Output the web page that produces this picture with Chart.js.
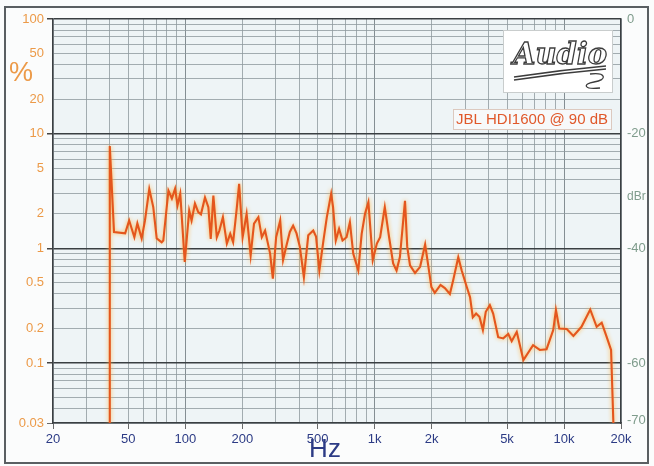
<!DOCTYPE html>
<html>
<head>
<meta charset="utf-8">
<title>JBL HDI1600 distortion</title>
<script src="https://cdn.jsdelivr.net/npm/chart.js@4.4.1/dist/chart.umd.min.js"></script>
<style>
  html, body { margin: 0; padding: 0; background: #fbfcfc; }
  canvas { display: block; }
</style>
</head>
<body>
<canvas id="thd" width="654" height="466"></canvas>
<script>
// THD+N against frequency, JBL HDI1600 at 90 dB
const freqHz = [
  39.6, 39.9, 42.0, 48.1, 50.5, 53.8, 55.8, 58.8, 61.2, 64.5,
  67.7, 70.6, 75.0, 76.5, 81.4, 84.9, 88.3, 90.9, 94.0, 99.3,
  104.8, 107.9, 112.4, 117.0, 120.9, 127.0, 132.3, 136.2, 140.6, 146.6,
  151.3, 157.9, 165.7, 172.6, 178.8, 186.4, 192.4, 200.7, 210.7, 221.3,
  230.5, 243.1, 253.4, 263.8, 280.4, 289.9, 301.7, 317.0, 328.2, 342.1,
  356.3, 370.9, 386.7, 402.7, 422.8, 445.9, 473.8, 490.1, 510.3, 536.2,
  558.9, 589.1, 602.9, 623.3, 648.7, 676.5, 710.3, 739.9, 770.5, 819.3,
  853.7, 889.1, 926.4, 977, 1027, 1069, 1131, 1192, 1252, 1305,
  1359, 1446, 1486, 1537, 1634, 1738, 1847, 1923, 1994, 2077,
  2227, 2348, 2496, 2600, 2764, 2882, 3065, 3190, 3298, 3434,
  3576, 3729, 3862, 4058, 4225, 4492, 4777, 5078, 5294, 5629,
  6103, 6863, 7451, 8089, 8772, 9066, 9441, 10337, 11210, 12370,
  13755, 14875, 15816, 16815, 17727, 18230
];
const thdPct = [
  0.03, 7.8, 1.39, 1.35, 1.75, 1.25, 1.65, 1.22, 1.75, 3.3,
  2.29, 1.22, 1.13, 1.17, 3.19, 2.72, 3.32, 2.37, 3.0, 0.76,
  2.14, 1.75, 2.46, 2.07, 1.98, 2.78, 2.29, 1.21, 2.89, 1.25,
  1.43, 1.87, 1.1, 1.34, 1.13, 2.14, 3.65, 1.25, 2.0, 0.87,
  1.64, 1.87, 1.25, 1.43, 0.9, 0.545, 1.25, 1.75, 0.79, 1.06,
  1.39, 1.58, 1.35, 1.03, 0.56, 1.3, 1.43, 1.27, 0.64, 1.17,
  1.87, 2.99, 2.29, 1.17, 1.48, 1.17, 1.25, 1.69, 0.9, 0.64,
  1.34, 2.0, 2.53, 0.79, 1.1, 1.25, 2.29, 1.25, 0.74, 0.64,
  0.84, 2.6, 1.03, 0.71, 0.61, 0.69, 1.08, 0.69, 0.46, 0.41,
  0.48, 0.45, 0.40, 0.53, 0.835, 0.64, 0.46, 0.375, 0.25, 0.27,
  0.253, 0.194, 0.28, 0.32, 0.27, 0.168, 0.164, 0.179, 0.155, 0.187,
  0.106, 0.143, 0.13, 0.132, 0.194, 0.29, 0.2, 0.198, 0.172, 0.207,
  0.293, 0.207, 0.225, 0.168, 0.13, 0.03
];

const freqLabelled = [20, 50, 100, 200, 500, 1000, 2000, 5000, 10000, 20000];
const freqLabels = ['20', '50', '100', '200', '500', '1k', '2k', '5k', '10k', '20k'];
const pctLabelled = [100, 50, 20, 10, 5, 2, 1, 0.5, 0.2, 0.1, 0.03];
const pctLabels = ['100', '50', '20', '10', '5', '2', '1', '0.5', '0.2', '0.1', '0.03'];
const dbrTicks = [0, -20, -40, -60, -70];
const dbrLabels = ['0', '-20', '-40', '-60', '-70'];
const legendText = 'JBL HDI1600 @ 90 dB';

const FONT = '"Liberation Sans", Arial, sans-serif';
const ORANGE = '#ec9a48';
const NAVY = '#2c3b85';
const GREY_GREEN = '#7f9c8c';

const near = (a, b) => Math.abs(a - b) <= Math.abs(b) * 1e-6;
const labelFor = (v, vals, labels) => {
  const i = vals.findIndex(t => v === t || near(v, t));
  return i < 0 ? '' : labels[i];
};
const isDecade = v => near(Math.log10(v), Math.round(Math.log10(v)));

// grid lines at every 1..9 step of each decade
function gridValues(lo, hi) {
  const out = [];
  for (let e = Math.floor(Math.log10(lo)); e <= Math.ceil(Math.log10(hi)); e++) {
    for (let m = 1; m <= 9; m++) {
      const v = +(m * Math.pow(10, e)).toPrecision(6);
      if (v >= lo * 0.9999 && v <= hi * 1.0001) out.push(v);
    }
  }
  return out;
}
const freqGrid = gridValues(20, 20000);
const pctGrid = gridValues(0.03, 100);

const backdrop = {
  id: 'backdrop',
  beforeDraw(chart) {
    const { ctx, chartArea: a } = chart;
    ctx.save();
    ctx.fillStyle = '#fbfcfc';
    ctx.fillRect(0, 0, chart.width, chart.height);
    ctx.fillStyle = '#eef4f6';
    ctx.fillRect(a.left, a.top, a.right - a.left, a.bottom - a.top);
    ctx.strokeStyle = '#5a5f62';
    ctx.lineWidth = 2;
    ctx.strokeRect(5, 7, 643, 456);
    ctx.restore();
  }
};

const glow = {
  id: 'glow',
  beforeDatasetsDraw(chart) {
    const ctx = chart.ctx;
    ctx.save();
    ctx.shadowColor = 'rgba(255, 180, 70, 0.95)';
    ctx.shadowBlur = 4;
  },
  afterDatasetsDraw(chart) {
    chart.ctx.restore();
  }
};

const decorations = {
  id: 'decorations',
  afterDraw(chart) {
    const ctx = chart.ctx;
    ctx.save();
    ctx.textBaseline = 'middle';

    ctx.fillStyle = ORANGE;
    ctx.font = '27px ' + FONT;
    ctx.textAlign = 'center';
    ctx.fillText('%', 21, 74);

    ctx.fillStyle = GREY_GREEN;
    ctx.font = '12px ' + FONT;
    ctx.textAlign = 'left';
    ctx.fillText('dBr', 627, 197);

    ctx.fillStyle = NAVY;
    ctx.font = '26px ' + FONT;
    ctx.textAlign = 'center';
    ctx.fillText('Hz', 325, 450);

    // series tag
    ctx.fillStyle = '#f7f9fa';
    ctx.fillRect(453.5, 109.5, 158, 20);
    ctx.strokeStyle = '#dcc9bf';
    ctx.lineWidth = 1;
    ctx.strokeRect(453.5, 109.5, 158, 20);
    ctx.fillStyle = '#e0582a';
    ctx.font = '15px ' + FONT;
    ctx.fillText(legendText, 532, 120);

    // magazine logo
    ctx.fillStyle = '#ffffff';
    ctx.fillRect(503.5, 30.5, 109, 62);
    ctx.strokeStyle = '#c9cdcd';
    ctx.strokeRect(503.5, 30.5, 109, 62);
    ctx.font = 'italic bold 29px "DejaVu Serif", serif';
    ctx.strokeStyle = '#3c3c3c';
    ctx.lineWidth = 1.3;
    ctx.strokeText('Audio', 560, 56);
    ctx.beginPath();
    ctx.moveTo(514, 77);
    ctx.quadraticCurveTo(560, 70, 606, 66);
    ctx.moveTo(514, 80);
    ctx.quadraticCurveTo(560, 73, 606, 69);
    ctx.moveTo(590, 74);
    ctx.bezierCurveTo(606, 72, 608, 80, 594, 82);
    ctx.bezierCurveTo(582, 84, 584, 90, 600, 88);
    ctx.stroke();
    ctx.restore();
  }
};

new Chart(document.getElementById('thd'), {
  type: 'line',
  data: {
    datasets: [{
      label: legendText,
      data: freqHz.map((f, i) => ({ x: f, y: thdPct[i] })),
      borderColor: '#e4561d',
      borderWidth: 2.1,
      pointRadius: 0,
      tension: 0,
      fill: false
    }]
  },
  options: {
    responsive: false,
    animation: false,
    devicePixelRatio: 1,
    layout: { padding: { top: 19, left: 0, right: 0, bottom: 0 } },
    plugins: {
      legend: { display: false },
      title: { display: false },
      tooltip: { enabled: false }
    },
    scales: {
      x: {
        type: 'logarithmic',
        min: 20,
        max: 20000,
        afterBuildTicks: s => { s.ticks = freqGrid.map(v => ({ value: v })); },
        afterFit: s => { s.height = 43; },
        ticks: {
          autoSkip: false,
          maxRotation: 0,
          padding: 3,
          color: NAVY,
          font: { family: FONT, size: 13 },
          callback: v => labelFor(v, freqLabelled, freqLabels)
        },
        grid: {
          color: c => isDecade(c.tick.value) ? '#68737a' : '#8e999e',
          lineWidth: 0.8,
          tickLength: 6,
          tickColor: c => labelFor(c.tick.value, freqLabelled, freqLabels) ? '#444' : 'rgba(0,0,0,0)'
        },
        border: { color: '#3a3f42', width: 1.5 }
      },
      y: {
        type: 'logarithmic',
        position: 'left',
        min: 0.03,
        max: 100,
        afterBuildTicks: s => { s.ticks = pctGrid.map(v => ({ value: v })); },
        afterFit: s => { s.width = 53; },
        ticks: {
          autoSkip: false,
          padding: 3,
          color: ORANGE,
          font: { family: FONT, size: 13 },
          callback: v => labelFor(v, pctLabelled, pctLabels)
        },
        grid: {
          color: c => isDecade(c.tick.value) ? '#3a3f42' : '#8e999e',
          lineWidth: c => isDecade(c.tick.value) ? 1.5 : 0.8,
          tickLength: 6,
          tickColor: c => (isDecade(c.tick.value) || near(c.tick.value, 0.03)) ? '#444' : 'rgba(0,0,0,0)'
        },
        border: { color: '#3a3f42', width: 1.5 }
      },
      y2: {
        type: 'linear',
        position: 'right',
        min: 20 * Math.log10(0.03 / 100),
        max: 0,
        afterBuildTicks: s => { s.ticks = dbrTicks.map(v => ({ value: v })); },
        afterFit: s => { s.width = 33; },
        ticks: {
          autoSkip: false,
          padding: 6,
          color: GREY_GREEN,
          font: { family: FONT, size: 13 },
          callback: v => labelFor(v, dbrTicks, dbrLabels)
        },
        grid: { drawOnChartArea: false, drawTicks: false },
        border: { color: '#3a3f42', width: 1.5 }
      }
    }
  },
  plugins: [backdrop, glow, decorations]
});
</script>
</body>
</html>
